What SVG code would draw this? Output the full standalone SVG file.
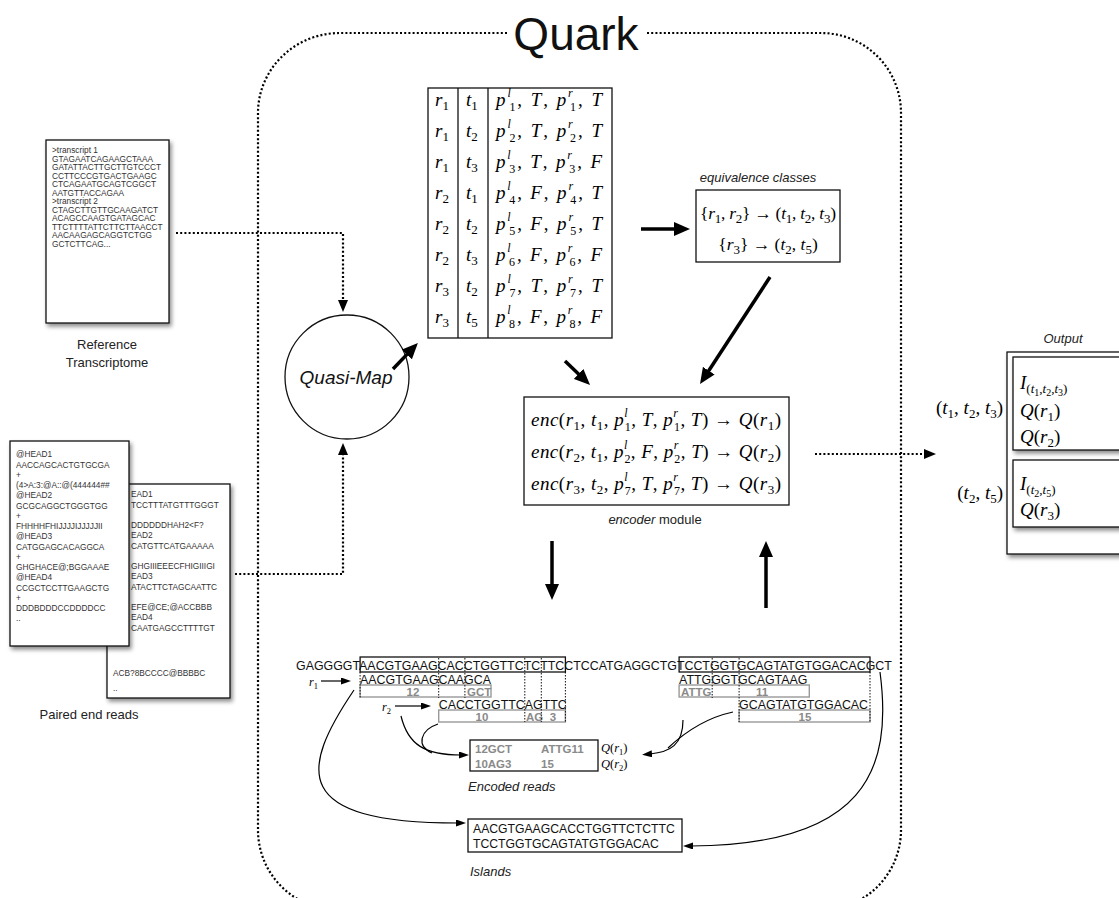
<svg xmlns="http://www.w3.org/2000/svg" width="1119" height="898" viewBox="0 0 1119 898">
<style>
.sans{font-family:"Liberation Sans",Arial,sans-serif}
.doc{font-family:"Liberation Sans",Arial,sans-serif;font-size:8.3px;fill:#333}
.lbl{font-family:"Liberation Sans",Arial,sans-serif;font-size:13px;fill:#222}
.m{font-family:"Liberation Serif","Times New Roman",serif;font-size:19px;fill:#000}
.i{font-style:italic}
.s{font-size:13px}
.s2{font-size:12px}
.ss{font-size:10px}
.seq{font-family:"Liberation Sans",Arial,sans-serif;font-size:12.4px;fill:#111}
.gl{font-family:"Liberation Sans",Arial,sans-serif;font-size:11.5px;font-weight:bold;fill:#8a8a8a}
.box{fill:#fff;stroke:#111;stroke-width:1.3}
.nob{fill:none;stroke:#111;stroke-width:1.3}
.gbox{fill:none;stroke:#999;stroke-width:1.4}
.vd{stroke:#111;stroke-width:1;stroke-dasharray:1.5 1.5}
.dot{fill:none;stroke:#000;stroke-width:2.2;stroke-dasharray:2 2.2}
.thick{stroke:#000;stroke-width:3.5;marker-end:url(#big)}
.thin{fill:none;stroke:#000;stroke-width:1.2;marker-end:url(#small)}
</style>
<defs>
<filter id="sh" x="-10%" y="-10%" width="130%" height="130%">
<feDropShadow dx="2" dy="3" stdDeviation="2" flood-color="#000" flood-opacity="0.45"/>
</filter>
<marker id="big" markerUnits="userSpaceOnUse" markerWidth="16" markerHeight="14" refX="4" refY="7" orient="auto"><path d="M0,0 L16,7 L0,14 z" fill="#000"/></marker>
<marker id="dhead" markerUnits="userSpaceOnUse" markerWidth="12" markerHeight="10" refX="1" refY="5" orient="auto"><path d="M0,0 L12,5 L0,10 z" fill="#000"/></marker>
<marker id="small" markerUnits="userSpaceOnUse" markerWidth="10" markerHeight="7" refX="2" refY="3.5" orient="auto"><path d="M0,0 L10,3.5 L0,7 z" fill="#000"/></marker>
</defs>
<rect width="1119" height="898" fill="#fff"/>

<g id="quark-boundary">
<path class="dot" d="M507,33 H340 A82,80 0 0 0 258,113 V830 A80,80 0 0 0 338,910 H821 A80,80 0 0 0 901,830 V113 A80,80 0 0 0 821,33 H646"/>
<text class="sans" x="576" y="50" text-anchor="middle" style="font-size:46px" fill="#111">Quark</text>
</g>

<g id="reference-transcriptome">
<rect class="box" x="46" y="140" width="123" height="183" filter="url(#sh)"/>
<text class="doc" x="52" y="153">&gt;transcript 1</text>
<text class="doc" x="52" y="161.5">GTAGAATCAGAAGCTAAA</text>
<text class="doc" x="52" y="170">GATATTACTTGCTTGTCCCT</text>
<text class="doc" x="52" y="178.5">CCTTCCCGTGACTGAAGC</text>
<text class="doc" x="52" y="187">CTCAGAATGCAGTCGGCT</text>
<text class="doc" x="52" y="195.5">AATGTTACCAGAA</text>
<text class="doc" x="52" y="204">&gt;transcript 2</text>
<text class="doc" x="52" y="212.5">CTAGCTTGTTGCAAGATCT</text>
<text class="doc" x="52" y="221">ACAGCCAAGTGATAGCAC</text>
<text class="doc" x="52" y="229.5">TTCTTTTATTCTTCTTAACCT</text>
<text class="doc" x="52" y="238">AACAAGAGCAGGTCTGG</text>
<text class="doc" x="52" y="246.5">GCTCTTCAG...</text>
<text class="lbl" x="107" y="349" text-anchor="middle">Reference</text>
<text class="lbl" x="107" y="367" text-anchor="middle">Transcriptome</text>
</g>

<g id="paired-end-reads">
<rect class="box" x="107" y="484" width="123" height="214" filter="url(#sh)"/>
<text class="doc" x="131" y="497">EAD1</text>
<text class="doc" x="131" y="507.5">TCCTTTATGTTTGGGT</text>
<text class="doc" x="131" y="528">DDDDDDHAH2&lt;F?</text>
<text class="doc" x="131" y="538">EAD2</text>
<text class="doc" x="131" y="548.5">CATGTTCATGAAAAA</text>
<text class="doc" x="131" y="569">GHGIIIEEECFHIGIIIGI</text>
<text class="doc" x="131" y="579">EAD3</text>
<text class="doc" x="131" y="589.5">ATACTTCTAGCAATTC</text>
<text class="doc" x="131" y="610">EFE@CE;@ACCBBB</text>
<text class="doc" x="131" y="620">EAD4</text>
<text class="doc" x="131" y="630.5">CAATGAGCCTTTTGT</text>
<text class="doc" x="113" y="676">ACB?8BCCCC@BBBBC</text>
<text class="doc" x="113" y="691">..</text>
<rect class="box" x="10" y="441" width="119" height="205" filter="url(#sh)"/>
<text class="doc" x="16" y="457">@HEAD1</text>
<text class="doc" x="16" y="467.5">AACCAGCACTGTGCGA</text>
<text class="doc" x="16" y="477.5">+</text>
<text class="doc" x="16" y="488">(4&gt;A:3:@A::@(444444##</text>
<text class="doc" x="16" y="498">@HEAD2</text>
<text class="doc" x="16" y="508.5">GCGCAGGCTGGGTGG</text>
<text class="doc" x="16" y="518.5">+</text>
<text class="doc" x="16" y="529">FHHHHFHIJJJJIJJJJJII</text>
<text class="doc" x="16" y="539">@HEAD3</text>
<text class="doc" x="16" y="549.5">CATGGAGCACAGGCA</text>
<text class="doc" x="16" y="559.5">+</text>
<text class="doc" x="16" y="570">GHGHACE@;BGGAAAE</text>
<text class="doc" x="16" y="580">@HEAD4</text>
<text class="doc" x="16" y="590.5">CCGCTCCTTGAAGCTG</text>
<text class="doc" x="16" y="600.5">+</text>
<text class="doc" x="16" y="611">DDDBDDDCCDDDDCC</text>
<text class="doc" x="16" y="621">..</text>
<text class="lbl" x="89" y="719" text-anchor="middle">Paired end reads</text>
</g>

<g id="quasi-map">
<circle cx="347" cy="377" r="62" fill="#fff" stroke="#111" stroke-width="1.3"/>
<text class="sans i" x="346" y="384" text-anchor="middle" style="font-size:19px" fill="#111">Quasi-Map</text>
</g>

<g id="mapping-table">
<rect class="nob" x="428" y="88" width="184" height="250"/>
<line x1="458" y1="88" x2="458" y2="338" stroke="#111" stroke-width="1.3"/>
<line x1="488" y1="88" x2="488" y2="338" stroke="#111" stroke-width="1.3"/>
<g class="m">
<text x="435" y="106"><tspan class="i">r</tspan><tspan class="s" dy="4">1</tspan></text>
<text x="435" y="137"><tspan class="i">r</tspan><tspan class="s" dy="4">1</tspan></text>
<text x="435" y="168"><tspan class="i">r</tspan><tspan class="s" dy="4">1</tspan></text>
<text x="435" y="199"><tspan class="i">r</tspan><tspan class="s" dy="4">2</tspan></text>
<text x="435" y="230"><tspan class="i">r</tspan><tspan class="s" dy="4">2</tspan></text>
<text x="435" y="261"><tspan class="i">r</tspan><tspan class="s" dy="4">2</tspan></text>
<text x="435" y="292"><tspan class="i">r</tspan><tspan class="s" dy="4">3</tspan></text>
<text x="435" y="323"><tspan class="i">r</tspan><tspan class="s" dy="4">3</tspan></text>
<text x="466" y="106"><tspan class="i">t</tspan><tspan class="s" dy="4">1</tspan></text>
<text x="466" y="137"><tspan class="i">t</tspan><tspan class="s" dy="4">2</tspan></text>
<text x="466" y="168"><tspan class="i">t</tspan><tspan class="s" dy="4">3</tspan></text>
<text x="466" y="199"><tspan class="i">t</tspan><tspan class="s" dy="4">1</tspan></text>
<text x="466" y="230"><tspan class="i">t</tspan><tspan class="s" dy="4">2</tspan></text>
<text x="466" y="261"><tspan class="i">t</tspan><tspan class="s" dy="4">3</tspan></text>
<text x="466" y="292"><tspan class="i">t</tspan><tspan class="s" dy="4">2</tspan></text>
<text x="466" y="323"><tspan class="i">t</tspan><tspan class="s" dy="4">5</tspan></text>
<text x="496" y="106" textLength="106" lengthAdjust="spacing"><tspan class="i">p</tspan><tspan class="s2 i" dy="-9">l</tspan><tspan class="s2" dx="-3.3" dy="13.5">1</tspan><tspan dy="-4.5">, </tspan><tspan class="i">T</tspan>, <tspan class="i">p</tspan><tspan class="s2 i" dy="-9">r</tspan><tspan class="s2" dx="-4.6" dy="13.5">1</tspan><tspan dy="-4.5">, </tspan><tspan class="i">T</tspan></text>
<text x="496" y="137" textLength="106" lengthAdjust="spacing"><tspan class="i">p</tspan><tspan class="s2 i" dy="-9">l</tspan><tspan class="s2" dx="-3.3" dy="13.5">2</tspan><tspan dy="-4.5">, </tspan><tspan class="i">T</tspan>, <tspan class="i">p</tspan><tspan class="s2 i" dy="-9">r</tspan><tspan class="s2" dx="-4.6" dy="13.5">2</tspan><tspan dy="-4.5">, </tspan><tspan class="i">T</tspan></text>
<text x="496" y="168" textLength="106" lengthAdjust="spacing"><tspan class="i">p</tspan><tspan class="s2 i" dy="-9">l</tspan><tspan class="s2" dx="-3.3" dy="13.5">3</tspan><tspan dy="-4.5">, </tspan><tspan class="i">T</tspan>, <tspan class="i">p</tspan><tspan class="s2 i" dy="-9">r</tspan><tspan class="s2" dx="-4.6" dy="13.5">3</tspan><tspan dy="-4.5">, </tspan><tspan class="i">F</tspan></text>
<text x="496" y="199" textLength="106" lengthAdjust="spacing"><tspan class="i">p</tspan><tspan class="s2 i" dy="-9">l</tspan><tspan class="s2" dx="-3.3" dy="13.5">4</tspan><tspan dy="-4.5">, </tspan><tspan class="i">F</tspan>, <tspan class="i">p</tspan><tspan class="s2 i" dy="-9">r</tspan><tspan class="s2" dx="-4.6" dy="13.5">4</tspan><tspan dy="-4.5">, </tspan><tspan class="i">T</tspan></text>
<text x="496" y="230" textLength="106" lengthAdjust="spacing"><tspan class="i">p</tspan><tspan class="s2 i" dy="-9">l</tspan><tspan class="s2" dx="-3.3" dy="13.5">5</tspan><tspan dy="-4.5">, </tspan><tspan class="i">F</tspan>, <tspan class="i">p</tspan><tspan class="s2 i" dy="-9">r</tspan><tspan class="s2" dx="-4.6" dy="13.5">5</tspan><tspan dy="-4.5">, </tspan><tspan class="i">T</tspan></text>
<text x="496" y="261" textLength="106" lengthAdjust="spacing"><tspan class="i">p</tspan><tspan class="s2 i" dy="-9">l</tspan><tspan class="s2" dx="-3.3" dy="13.5">6</tspan><tspan dy="-4.5">, </tspan><tspan class="i">F</tspan>, <tspan class="i">p</tspan><tspan class="s2 i" dy="-9">r</tspan><tspan class="s2" dx="-4.6" dy="13.5">6</tspan><tspan dy="-4.5">, </tspan><tspan class="i">F</tspan></text>
<text x="496" y="292" textLength="106" lengthAdjust="spacing"><tspan class="i">p</tspan><tspan class="s2 i" dy="-9">l</tspan><tspan class="s2" dx="-3.3" dy="13.5">7</tspan><tspan dy="-4.5">, </tspan><tspan class="i">T</tspan>, <tspan class="i">p</tspan><tspan class="s2 i" dy="-9">r</tspan><tspan class="s2" dx="-4.6" dy="13.5">7</tspan><tspan dy="-4.5">, </tspan><tspan class="i">T</tspan></text>
<text x="496" y="323" textLength="106" lengthAdjust="spacing"><tspan class="i">p</tspan><tspan class="s2 i" dy="-9">l</tspan><tspan class="s2" dx="-3.3" dy="13.5">8</tspan><tspan dy="-4.5">, </tspan><tspan class="i">F</tspan>, <tspan class="i">p</tspan><tspan class="s2 i" dy="-9">r</tspan><tspan class="s2" dx="-4.6" dy="13.5">8</tspan><tspan dy="-4.5">, </tspan><tspan class="i">F</tspan></text>
</g>
</g>

<g id="equivalence-classes">
<text class="lbl i" x="758" y="182" text-anchor="middle">equivalence classes</text>
<rect class="nob" x="696" y="190" width="144" height="72"/>
<text class="m" x="768" y="219" text-anchor="middle" style="font-size:17.5px" textLength="136" lengthAdjust="spacing">{<tspan class="i">r</tspan><tspan class="s" dy="4">1</tspan><tspan dy="-4">, </tspan><tspan class="i">r</tspan><tspan class="s" dy="4">2</tspan><tspan dy="-4">} → (</tspan><tspan class="i">t</tspan><tspan class="s" dy="4">1</tspan><tspan dy="-4">, </tspan><tspan class="i">t</tspan><tspan class="s" dy="4">2</tspan><tspan dy="-4">, </tspan><tspan class="i">t</tspan><tspan class="s" dy="4">3</tspan><tspan dy="-4">)</tspan></text>
<text class="m" x="768" y="250" text-anchor="middle" style="font-size:17.5px">{<tspan class="i">r</tspan><tspan class="s" dy="4">3</tspan><tspan dy="-4">} → (</tspan><tspan class="i">t</tspan><tspan class="s" dy="4">2</tspan><tspan dy="-4">, </tspan><tspan class="i">t</tspan><tspan class="s" dy="4">5</tspan><tspan dy="-4">)</tspan></text>
</g>

<g id="encoder-module">
<rect class="nob" x="524" y="397" width="265" height="108"/>
<text class="m" x="656" y="426" text-anchor="middle" textLength="250" lengthAdjust="spacing"><tspan class="i">enc</tspan>(<tspan class="i">r</tspan><tspan class="s" dy="4">1</tspan><tspan dy="-4">, </tspan><tspan class="i">t</tspan><tspan class="s" dy="4">1</tspan><tspan dy="-4">, </tspan><tspan class="i">p</tspan><tspan class="s2 i" dy="-9">l</tspan><tspan class="s2" dx="-3.3" dy="13.5">1</tspan><tspan dy="-4.5">, </tspan><tspan class="i">T</tspan>, <tspan class="i">p</tspan><tspan class="s2 i" dy="-9">r</tspan><tspan class="s2" dx="-4.6" dy="13.5">1</tspan><tspan dy="-4.5">, </tspan><tspan class="i">T</tspan>) → <tspan class="i">Q</tspan>(<tspan class="i">r</tspan><tspan class="s" dy="4">1</tspan><tspan dy="-4">)</tspan></text>
<text class="m" x="656" y="458" text-anchor="middle" textLength="250" lengthAdjust="spacing"><tspan class="i">enc</tspan>(<tspan class="i">r</tspan><tspan class="s" dy="4">2</tspan><tspan dy="-4">, </tspan><tspan class="i">t</tspan><tspan class="s" dy="4">1</tspan><tspan dy="-4">, </tspan><tspan class="i">p</tspan><tspan class="s2 i" dy="-9">l</tspan><tspan class="s2" dx="-3.3" dy="13.5">2</tspan><tspan dy="-4.5">, </tspan><tspan class="i">F</tspan>, <tspan class="i">p</tspan><tspan class="s2 i" dy="-9">r</tspan><tspan class="s2" dx="-4.6" dy="13.5">2</tspan><tspan dy="-4.5">, </tspan><tspan class="i">T</tspan>) → <tspan class="i">Q</tspan>(<tspan class="i">r</tspan><tspan class="s" dy="4">2</tspan><tspan dy="-4">)</tspan></text>
<text class="m" x="656" y="490" text-anchor="middle" textLength="250" lengthAdjust="spacing"><tspan class="i">enc</tspan>(<tspan class="i">r</tspan><tspan class="s" dy="4">3</tspan><tspan dy="-4">, </tspan><tspan class="i">t</tspan><tspan class="s" dy="4">2</tspan><tspan dy="-4">, </tspan><tspan class="i">p</tspan><tspan class="s2 i" dy="-9">l</tspan><tspan class="s2" dx="-3.3" dy="13.5">7</tspan><tspan dy="-4.5">, </tspan><tspan class="i">T</tspan>, <tspan class="i">p</tspan><tspan class="s2 i" dy="-9">r</tspan><tspan class="s2" dx="-4.6" dy="13.5">7</tspan><tspan dy="-4.5">, </tspan><tspan class="i">T</tspan>) → <tspan class="i">Q</tspan>(<tspan class="i">r</tspan><tspan class="s" dy="4">3</tspan><tspan dy="-4">)</tspan></text>
<text class="lbl" x="655" y="524" text-anchor="middle"><tspan class="i">encoder</tspan> module</text>
</g>

<g id="alignment">
<rect class="nob" x="360.1" y="657" width="205.3" height="15"/>
<rect class="nob" x="679.1" y="657" width="190.9" height="15"/>
<text class="seq" x="296" y="670">GAGGGGTAACGTGAAGCACCTGGTTCTCTTCCTCCATGAGGCTGTCCTGGTGCAGTATGTGGACACGCT</text>
<text class="seq" x="360.1" y="684">AACGTGAAGCAAGCA</text>
<rect class="gbox" x="360.1" y="685" width="130.9" height="12"/>
<text class="gl" x="413" y="696" text-anchor="middle">12</text>
<text class="gl" x="467" y="696">GCT</text>
<text class="seq" x="438.7" y="709">CACCTGGTTCAGTTC</text>
<rect class="gbox" x="438.7" y="710" width="126.7" height="12"/>
<text class="gl" x="482" y="721" text-anchor="middle">10</text>
<text class="gl" x="526" y="721">AG</text>
<text class="gl" x="553" y="721" text-anchor="middle">3</text>
<text class="seq" x="679.1" y="684">ATTGGGTGCAGTAAG</text>
<rect class="gbox" x="679.1" y="685" width="130.2" height="12"/>
<text class="gl" x="681" y="696">ATTG</text>
<text class="gl" x="762" y="696" text-anchor="middle">11</text>
<text class="seq" x="739.1" y="709">GCAGTATGTGGACAC</text>
<rect class="gbox" x="739.1" y="710" width="130.9" height="12"/>
<text class="gl" x="805" y="721" text-anchor="middle">15</text>
<line class="vd" x1="360.1" y1="672" x2="360.1" y2="698"/>
<line class="vd" x1="438.7" y1="658" x2="438.7" y2="698"/>
<line class="vd" x1="464.9" y1="658" x2="464.9" y2="698"/>
<line class="vd" x1="524.8" y1="658" x2="524.8" y2="722"/>
<line class="vd" x1="541.3" y1="658" x2="541.3" y2="722"/>
<line class="vd" x1="565.4" y1="672" x2="565.4" y2="722"/>
<line class="vd" x1="712.2" y1="658" x2="712.2" y2="698"/>
<line class="vd" x1="739.1" y1="658" x2="739.1" y2="722"/>
<line class="vd" x1="870" y1="672" x2="870" y2="722"/>
<text class="m" x="309" y="686" style="font-size:12px"><tspan class="i">r</tspan><tspan style="font-size:8.5px" dy="2.5">1</tspan></text>
<text class="m" x="382" y="711" style="font-size:12px"><tspan class="i">r</tspan><tspan style="font-size:8.5px" dy="2.5">2</tspan></text>
</g>

<g id="encoded-reads">
<rect class="nob" x="470" y="740" width="128" height="31"/>
<text class="gl" x="475" y="753">12GCT</text>
<text class="gl" x="541" y="753">ATTG11</text>
<text class="gl" x="475" y="768">10AG3</text>
<text class="gl" x="541" y="768">15</text>
<text class="m" x="601" y="752" style="font-size:12.5px"><tspan class="i">Q</tspan>(<tspan class="i">r</tspan><tspan style="font-size:8.5px" dy="2.5">1</tspan><tspan dy="-2.5">)</tspan></text>
<text class="m" x="601" y="768" style="font-size:12.5px"><tspan class="i">Q</tspan>(<tspan class="i">r</tspan><tspan style="font-size:8.5px" dy="2.5">2</tspan><tspan dy="-2.5">)</tspan></text>
<text class="lbl i" x="468" y="791">Encoded reads</text>
</g>

<g id="islands">
<rect class="nob" x="468" y="819" width="214" height="33"/>
<text class="seq" x="473" y="833" style="font-size:12.2px">AACGTGAAGCACCTGGTTCTCTTC</text>
<text class="seq" x="473" y="848" style="font-size:12.2px">TCCTGGTGCAGTATGTGGACAC</text>
<text class="lbl i" x="470" y="876">Islands</text>
</g>

<g id="output">
<text class="lbl i" x="1063" y="343" text-anchor="middle">Output</text>
<rect class="box" x="1007" y="352" width="130" height="202" filter="url(#sh)"/>
<rect class="box" x="1013" y="357" width="130" height="93" filter="url(#sh)"/>
<rect class="box" x="1013" y="460" width="130" height="67" filter="url(#sh)"/>
<text class="m" x="1020" y="389"><tspan class="i">I</tspan><tspan class="s" dy="4">(</tspan><tspan class="s i">t</tspan><tspan class="ss" dy="2.5">1</tspan><tspan class="s" dy="-2.5">,</tspan><tspan class="s i">t</tspan><tspan class="ss" dy="2.5">2</tspan><tspan class="s" dy="-2.5">,</tspan><tspan class="s i">t</tspan><tspan class="ss" dy="2.5">3</tspan><tspan class="s" dy="-2.5">)</tspan></text>
<text class="m" x="1020" y="417"><tspan class="i">Q</tspan>(<tspan class="i">r</tspan><tspan class="s" dy="4">1</tspan><tspan dy="-4">)</tspan></text>
<text class="m" x="1020" y="443"><tspan class="i">Q</tspan>(<tspan class="i">r</tspan><tspan class="s" dy="4">2</tspan><tspan dy="-4">)</tspan></text>
<text class="m" x="1020" y="490"><tspan class="i">I</tspan><tspan class="s" dy="4">(</tspan><tspan class="s i">t</tspan><tspan class="ss" dy="2.5">2</tspan><tspan class="s" dy="-2.5">,</tspan><tspan class="s i">t</tspan><tspan class="ss" dy="2.5">5</tspan><tspan class="s" dy="-2.5">)</tspan></text>
<text class="m" x="1020" y="516"><tspan class="i">Q</tspan>(<tspan class="i">r</tspan><tspan class="s" dy="4">3</tspan><tspan dy="-4">)</tspan></text>
<text class="m" x="1003" y="414" text-anchor="end">(<tspan class="i">t</tspan><tspan class="s" dy="4">1</tspan><tspan dy="-4">, </tspan><tspan class="i">t</tspan><tspan class="s" dy="4">2</tspan><tspan dy="-4">, </tspan><tspan class="i">t</tspan><tspan class="s" dy="4">3</tspan><tspan dy="-4">)</tspan></text>
<text class="m" x="1003" y="499" text-anchor="end">(<tspan class="i">t</tspan><tspan class="s" dy="4">2</tspan><tspan dy="-4">, </tspan><tspan class="i">t</tspan><tspan class="s" dy="4">5</tspan><tspan dy="-4">)</tspan></text>
</g>

<g id="connectors">
<path class="dot" d="M176,233 H343 V301" marker-end="url(#dhead)"/>
<path class="dot" d="M235,574 H343 V454" marker-end="url(#dhead)"/>
<path class="dot" d="M815,454 H925" marker-end="url(#dhead)"/>
<line class="thick" x1="641" y1="229" x2="678" y2="229"/>
<line class="thick" x1="393" y1="369" x2="409.6" y2="351.6"/>
<line class="thick" x1="565" y1="361" x2="581.4" y2="376.7"/>
<line class="thick" x1="770" y1="277" x2="706.6" y2="374"/>
<line class="thick" x1="552" y1="541" x2="552" y2="588"/>
<line class="thick" x1="766" y1="608" x2="766" y2="553"/>
<line class="thin" x1="321" y1="681" x2="343" y2="681"/>
<line class="thin" x1="395" y1="706" x2="423" y2="706"/>
<path class="thin" d="M354,690 C300,770 290,823 458,823"/>
<path class="thin" d="M401,716 C408,745 425,755 461,755"/>
<path d="M438,724 C420,730 416,746 432,753" fill="none" stroke="#000" stroke-width="1.2"/>
<path class="thin" d="M683,720 C683,745 670,752 650,754"/>
<path d="M733,712 C705,718 685,732 668,748" fill="none" stroke="#000" stroke-width="1.2"/>
<path class="thin" d="M880,672 C893,770 865,845 691,846"/>
</g>
</svg>
